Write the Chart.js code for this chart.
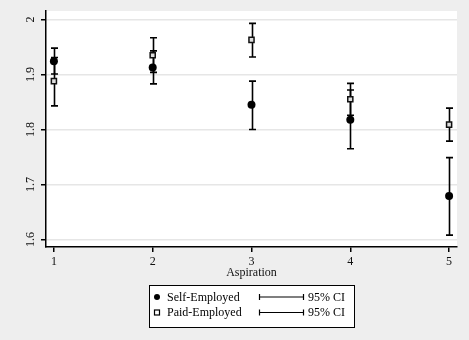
<!DOCTYPE html>
<html>
<head>
<meta charset="utf-8">
<script src="https://cdn.jsdelivr.net/npm/chart.js@4"></script>
<style>
  html, body { margin: 0; padding: 0; background: #eeeeee; }
  #wrap { width: 469px; height: 340px; }
</style>
</head>
<body>
<div id="wrap"><canvas id="ciChart"></canvas></div>
<script>
// values
const aspiration = [1, 2, 3, 4, 5];
const yTicks = [1.6, 1.7, 1.8, 1.9, 2];
const selfMean = [1.924, 1.913, 1.845, 1.818, 1.679];
const selfLo = [1.901, 1.883, 1.800, 1.765, 1.608];
const selfHi = [1.948, 1.943, 1.888, 1.872, 1.749];
const paidMean = [1.888, 1.935, 1.963, 1.855, 1.809];
const paidLo = [1.843, 1.904, 1.932, 1.826, 1.779];
const paidHi = [1.931, 1.967, 1.993, 1.884, 1.839];

const FONT = "Liberation Serif, Times New Roman, serif";

const toPoints = (ys) => aspiration.map((x, i) => ({ x: x, y: ys[i] }));

// stata-ish page: gray page, white plot region
const backdrop = {
  id: "backdrop",
  beforeDraw(chart) {
    const { ctx, chartArea: a } = chart;
    ctx.save();
    ctx.fillStyle = "#eeeeee";
    ctx.fillRect(0, 0, chart.width, chart.height);
    ctx.fillStyle = "#ffffff";
    ctx.fillRect(a.left, a.top, a.right - a.left, a.bottom - a.top);
    ctx.restore();
  },
};

const errorBars = {
  id: "errorBars",
  beforeDatasetsDraw(chart) {
    const { ctx, scales } = chart;
    const xs = scales.x, ys = scales.y;
    const sets = [[selfLo, selfHi], [paidLo, paidHi]];
    ctx.save();
    ctx.strokeStyle = "#000";
    ctx.lineWidth = 1.6;
    sets.forEach(([lo, hi]) => {
      aspiration.forEach((a, i) => {
        const px = Math.round(xs.getPixelForValue(a)) + 0.5;
        const y1 = ys.getPixelForValue(lo[i]);
        const y2 = ys.getPixelForValue(hi[i]);
        ctx.beginPath();
        ctx.moveTo(px, y1); ctx.lineTo(px, y2);
        ctx.moveTo(px - 3.5, y1); ctx.lineTo(px + 3.5, y1);
        ctx.moveTo(px - 3.5, y2); ctx.lineTo(px + 3.5, y2);
        ctx.stroke();
      });
    });
    ctx.restore();
  },
};

// rotated y labels, x labels, axis title and the boxed legend
const labelsAndLegend = {
  id: "labelsAndLegend",
  afterDraw(chart) {
    const { ctx, scales } = chart;
    ctx.save();
    ctx.fillStyle = "#111";
    ctx.font = "12px " + FONT;
    ctx.textAlign = "center";
    ctx.textBaseline = "middle";
    yTicks.forEach((v) => {
      const py = scales.y.getPixelForValue(v);
      ctx.save();
      ctx.translate(31, py);
      ctx.rotate(-Math.PI / 2);
      ctx.fillText(String(v), 0, 0);
      ctx.restore();
    });
    aspiration.forEach((v) => {
      ctx.fillText(String(v), scales.x.getPixelForValue(v), 262);
    });
    ctx.fillText("Aspiration", (chart.chartArea.left + chart.chartArea.right) / 2, 273);

    // legend box
    ctx.fillStyle = "#ffffff";
    ctx.fillRect(149.5, 285.5, 205, 42);
    ctx.strokeStyle = "#000";
    ctx.lineWidth = 1;
    ctx.strokeRect(149.5, 285.5, 205, 42);

    ctx.fillStyle = "#000";
    ctx.textAlign = "left";
    const rows = [["Self-Employed", 297], ["Paid-Employed", 312.5]];
    rows.forEach(([name, ry], k) => {
      ctx.lineWidth = 1.2;
      if (k === 0) {
        ctx.beginPath();
        ctx.arc(157, ry, 3, 0, Math.PI * 2);
        ctx.fill();
      } else {
        ctx.fillStyle = "#ffffff";
        ctx.fillRect(154.5, ry - 2.5, 5, 5);
        ctx.strokeRect(154.5, ry - 2.5, 5, 5);
        ctx.fillStyle = "#000";
      }
      ctx.fillText(name, 167, ry + 0.5);
      ctx.beginPath();
      ctx.moveTo(259, ry); ctx.lineTo(304, ry);
      ctx.moveTo(259.5, ry - 3); ctx.lineTo(259.5, ry + 3);
      ctx.moveTo(303.5, ry - 3); ctx.lineTo(303.5, ry + 3);
      ctx.stroke();
      ctx.fillText("95% CI", 308, ry + 0.5);
    });
    ctx.restore();
  },
};

const ctx = document.getElementById("ciChart").getContext("2d");
const ciChart = new Chart(ctx, {
  type: "scatter",
  data: {
    datasets: [
      {
        label: "Self-Employed",
        data: toPoints(selfMean),
        pointStyle: "circle",
        pointRadius: 4,
        backgroundColor: "#000",
        borderColor: "#000",
        borderWidth: 0,
      },
      {
        label: "Paid-Employed",
        data: toPoints(paidMean),
        pointStyle: "rect",
        pointRadius: 3.6,
        backgroundColor: "#dddddd",
        borderColor: "#111",
        borderWidth: 1.5,
      },
    ],
  },
  options: {
    responsive: true,
    maintainAspectRatio: false,
    animation: false,
    events: [],
    layout: { padding: { top: 11, right: 12, left: 0, bottom: 0 } },
    plugins: { legend: { display: false }, tooltip: { enabled: false } },
    scales: {
      x: {
        type: "linear",
        min: 0.92,
        max: 5.08,
        afterBuildTicks: (s) => { s.ticks = aspiration.map((v) => ({ value: v })); },
        afterFit: (s) => { s.height = 93; },
        ticks: { display: false },
        grid: { drawOnChartArea: false, drawTicks: true, tickLength: 5, tickColor: "#000", lineWidth: 1.5 },
        border: { color: "#000", width: 1.5 },
      },
      y: {
        type: "linear",
        min: 1.5865,
        max: 2.0155,
        afterBuildTicks: (s) => { s.ticks = yTicks.map((v) => ({ value: v })); },
        afterFit: (s) => { s.width = 46; },
        ticks: { display: false },
        grid: { color: "#e6e6e6", lineWidth: 1.5, drawTicks: true, tickLength: 5, tickColor: "#000" },
        border: { color: "#000", width: 1.5 },
      },
    },
  },
  plugins: [backdrop, errorBars, labelsAndLegend],
});
</script>
</body>
</html>
